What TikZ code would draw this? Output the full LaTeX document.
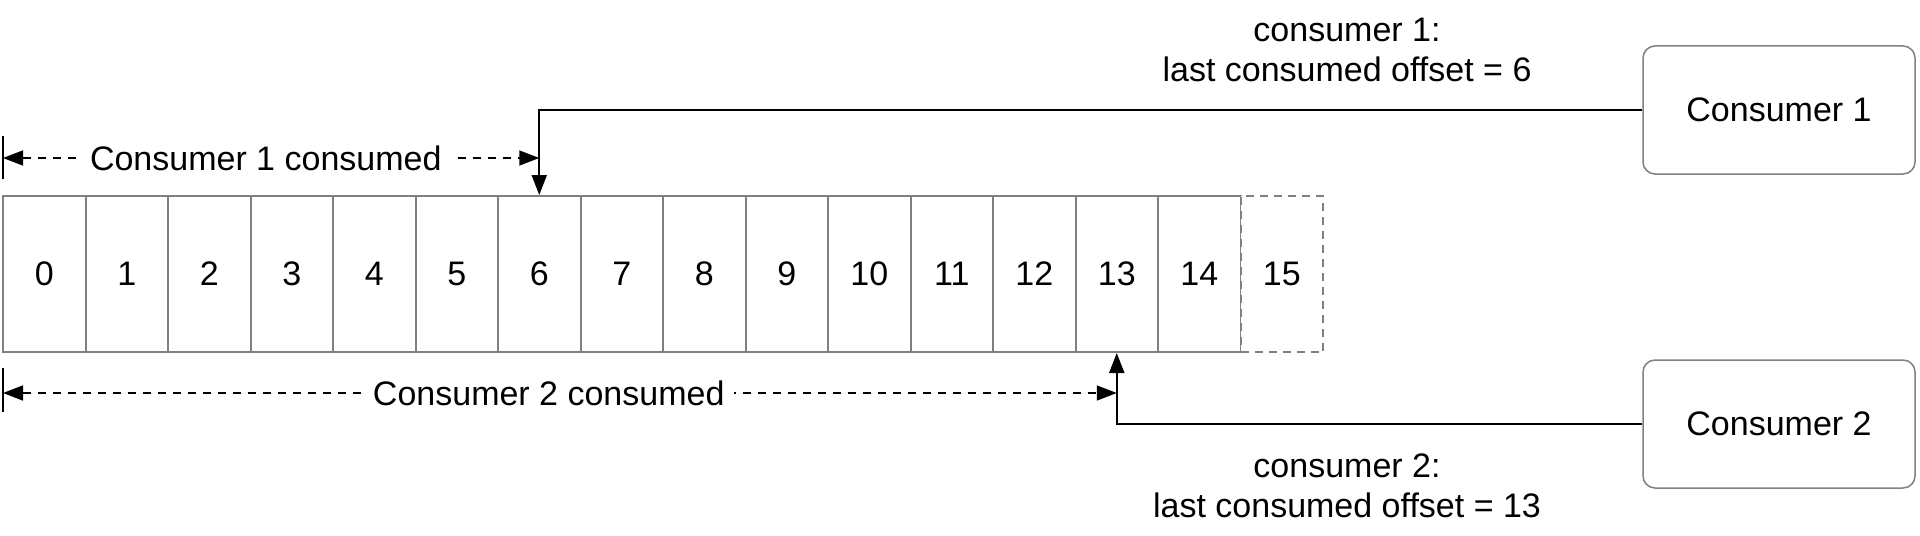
\documentclass[tikz,border=0pt]{standalone}
\usepackage{fontspec}
\setmainfont{Liberation Sans}
\usetikzlibrary{arrows.meta}
\definecolor{cellgray}{RGB}{128,128,128}
\begin{document}
\begin{tikzpicture}[x=0.5pt,y=-0.5pt,
  font=\fontsize{17}{20}\selectfont,
  cell/.style={draw=cellgray, line width=1pt, minimum width=41.25pt, minimum height=78pt, inner sep=0pt, anchor=center},
  consumer/.style={draw=cellgray, line width=0.75pt, rounded corners=6pt, minimum width=136pt, minimum height=64pt, fill=white},
  conn/.style={line width=1pt, -{Triangle[length=10pt,width=7.5pt]}},
  span/.style={line width=0.75pt, dash pattern=on 4pt off 3.5pt, {Triangle[length=10pt,width=7.5pt]}-{Triangle[length=10pt,width=7.5pt]}},
  spanlabel/.style={fill=white, inner sep=4.5pt},
  tickline/.style={line width=0.75pt}]
\useasboundingbox (0,0) rectangle (1920,535);
\foreach \i in {0,...,14} \node[cell] (c\i) at ({3+82.5*\i+41.25},274) {\i};
\node[cell, fill=white, dash pattern=on 4pt off 3pt] (c15) at ({3+82.5*15+41.25},274) {15};
\node[consumer] (k1) at (1779,110) {Consumer 1};
\node[consumer] (k2) at (1779,424) {Consumer 2};
\draw[conn] (k1.west) -| (c6.north);
\draw[conn] (k2.west) -| (c13.south);
\coordinate (t1a) at (3,136);
\coordinate (t1b) at (3,179);
\coordinate (s1) at (3,158);
\coordinate (t2a) at (3,368);
\coordinate (t2b) at (3,412);
\coordinate (s2) at (3,393);
\draw[tickline] (t1a) -- (t1b);
\draw[tickline] (t2a) -- (t2b);
\draw[span] (s1) -- node[pos=0.49, spanlabel] (sl1) {Consumer 1 consumed} (s1 -| c6.north);
\draw[span] (s2) -- node[pos=0.49, spanlabel] (sl2) {Consumer 2 consumed} (s2 -| c13.south);
\node[align=center] (l1) at (1347,50) {consumer 1:\\last consumed offset = 6};
\node[align=center] (l2) at (1347,486) {consumer 2:\\last consumed offset = 13};
\end{tikzpicture}
\end{document}
